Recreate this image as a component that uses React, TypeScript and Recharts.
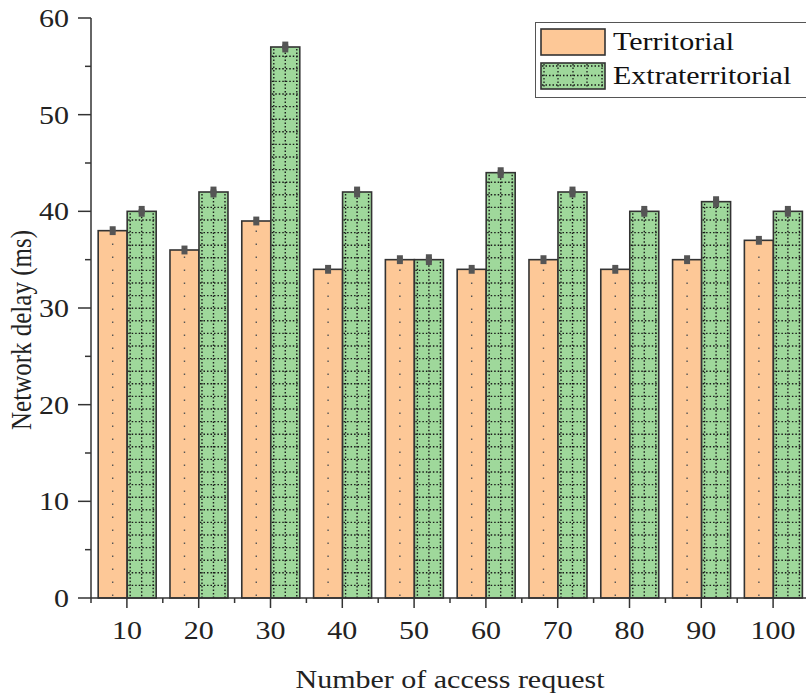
import React from "react";
import { Bar, BarChart, ErrorBar, XAxis, YAxis } from "recharts";

const requests = [10, 20, 30, 40, 50, 60, 70, 80, 90, 100];
const territorial = [38, 36, 39, 34, 35, 34, 35, 34, 35, 37];
const extraterritorial = [40, 42, 57, 42, 35, 44, 42, 40, 41, 40];
const territorialErr = [0.2, 0.2, 0.2, 0.2, 0.2, 0.2, 0.2, 0.2, 0.2, 0.2];
const extraErr = [0.25, 0.25, 0.25, 0.25, 0.25, 0.25, 0.25, 0.25, 0.25, 0.25];
const yTicks = [0, 5, 10, 15, 20, 25, 30, 35, 40, 45, 50, 55, 60];
const legendItems = [
  { key: "territorial", label: "Territorial" },
  { key: "extraterritorial", label: "Extraterritorial" },
];

const data = requests.map((r, i) => ({
  name: String(r),
  territorial: territorial[i],
  extraterritorial: extraterritorial[i],
  tErr: territorialErr[i],
  eErr: extraErr[i],
}));

const FONT = '"Liberation Serif", "Times New Roman", serif';
const ORANGE = "#FDC897";
const GREEN = "#9FD89B";
const EDGE = "#333";
const STRETCH = 1.2; // the reference text looks stretched sideways

function OrangeShape(props: any) {
  const { x, y, width, height } = props;
  if (height <= 0) return null;
  const cx = x + width / 2;
  return (
    <g>
      <rect x={x} y={y} width={width} height={height} fill={ORANGE} stroke={EDGE} strokeWidth={1.6} />
      <line x1={cx} y1={y + height - 2} x2={cx} y2={y + 6} stroke="#555" strokeWidth={1.4} strokeDasharray="1.4 11.6" />
    </g>
  );
}

function GreenShape(props: any) {
  const { x, y, width, height } = props;
  if (height <= 0) return null;
  const rows: number[] = [];
  for (let yy = y + height - 12.6; yy > y + 3; yy -= 12.6) rows.push(yy);
  const cols = [x + 3, x + width / 2, x + width - 3];
  return (
    <g>
      <rect x={x} y={y} width={width} height={height} fill={GREEN} stroke={EDGE} strokeWidth={1.6} />
      {rows.map((yy, i) => (
        <line key={"h" + i} x1={x + 1} x2={x + width - 1} y1={yy} y2={yy} stroke="#1a1a1a" strokeWidth={1.4} strokeDasharray="1.5 2" />
      ))}
      {cols.map((xx, i) => (
        <line key={"v" + i} x1={xx} x2={xx} y1={y + 2} y2={y + height} stroke="#1a1a1a" strokeWidth={1.4} strokeDasharray="1.5 2" />
      ))}
    </g>
  );
}

function StretchText(props: { x: number; y: number; anchor: string; children: any; size?: number }) {
  return (
    <text
      transform={`translate(${props.x},${props.y}) scale(${STRETCH},1)`}
      textAnchor={props.anchor}
      fontFamily={FONT}
      fontSize={props.size || 25}
      fill="#222"
    >
      {props.children}
    </text>
  );
}

function XTick(props: any) {
  const { x, y, payload } = props;
  const half = payload && payload.offset ? payload.offset : 35.9;
  return (
    <g>
      <line x1={x} x2={x} y1={y} y2={y + 10} stroke={EDGE} strokeWidth={1.5} />
      <line x1={x + half} x2={x + half} y1={y} y2={y + 5} stroke={EDGE} strokeWidth={1.5} />
      {payload.index === 0 && (
        <line x1={x - half} x2={x - half} y1={y} y2={y + 5} stroke={EDGE} strokeWidth={1.5} />
      )}
      <StretchText x={x} y={y + 41} anchor="middle">
        {payload.value}
      </StretchText>
    </g>
  );
}

function YTick(props: any) {
  const { x, y, payload } = props;
  const major = payload.value % 10 === 0;
  return (
    <g>
      <line x1={x - (major ? 13 : 6)} x2={x} y1={y} y2={y} stroke={EDGE} strokeWidth={1.5} />
      {major && (
        <StretchText x={x - 22} y={y + 9} anchor="end">
          {payload.value}
        </StretchText>
      )}
    </g>
  );
}

function XLabel(props: any) {
  const vb = props.viewBox;
  return (
    <StretchText x={vb.x + vb.width / 2} y={vb.y + vb.height - 11} anchor="middle">
      Number of access request
    </StretchText>
  );
}

function YLabel(props: any) {
  const vb = props.viewBox;
  const cy = vb.y + vb.height / 2 + 22;
  return (
    <text
      transform={`translate(31,${cy}) scale(${STRETCH},1) rotate(-90)`}
      textAnchor="middle"
      fontFamily={FONT}
      fontSize={25}
      fill="#222"
    >
      Network delay (ms)
    </text>
  );
}

function Swatch(props: { kind: string }) {
  return (
    <svg width={66} height={28} style={{ display: "block" }}>
      {props.kind === "territorial" ? (
        <rect x={1} y={1} width={64} height={26} fill={ORANGE} stroke={EDGE} strokeWidth={1.6} />
      ) : (
        <g>
          <rect x={1} y={1} width={64} height={26} fill={GREEN} stroke={EDGE} strokeWidth={1.6} />
          {[4, 13.5, 23].map((yy) => (
            <line key={yy} x1={2} x2={64} y1={yy} y2={yy} stroke="#1a1a1a" strokeWidth={1.3} strokeDasharray="1.5 2" />
          ))}
          {[4, 18, 33, 47, 62].map((xx) => (
            <line key={xx} x1={xx} x2={xx} y1={2} y2={26} stroke="#1a1a1a" strokeWidth={1.3} strokeDasharray="1.5 2" />
          ))}
        </g>
      )}
    </svg>
  );
}

function LegendBox() {
  return (
    <div
      style={{
        position: "absolute",
        left: 535,
        top: 22,
        width: 266,
        height: 72,
        border: "1.5px solid #555",
        background: "#fff",
        padding: "2px 0 0 4px",
        fontFamily: FONT,
        fontSize: 25,
        color: "#111",
      }}
    >
      {legendItems.map((it) => (
        <div key={it.key} style={{ display: "flex", alignItems: "center", height: 34 }}>
          <Swatch kind={it.key} />
          <span style={{ marginLeft: 7, display: "inline-block", transform: `scale(${STRETCH},1)`, transformOrigin: "left center" }}>
            {it.label}
          </span>
        </div>
      ))}
    </div>
  );
}

export default function App() {
  return (
    <div style={{ position: "absolute", left: 0, top: 0, width: 806, height: 699, overflow: "hidden", background: "#fff" }}>
      <BarChart
        width={809}
        height={699}
        data={data}
        margin={{ top: 18, right: 0, bottom: 0, left: 0 }}
        barCategoryGap="10%"
        barGap={0}
      >
        <XAxis
          dataKey="name"
          height={101}
          tickSize={0}
          tickMargin={0}
          tickLine={false}
          axisLine={{ stroke: EDGE, strokeWidth: 1.5 }}
          tick={<XTick />}
          interval={0}
          label={<XLabel />}
        />
        <YAxis
          width={91}
          domain={[0, 60]}
          ticks={yTicks}
          interval={0}
          tickSize={0}
          tickMargin={0}
          tickLine={false}
          axisLine={{ stroke: EDGE, strokeWidth: 1.5 }}
          tick={<YTick />}
          label={<YLabel />}
        />
        <Bar dataKey="territorial" name="Territorial" fill={ORANGE} shape={<OrangeShape />} isAnimationActive={false}>
          <ErrorBar dataKey="tErr" width={3} stroke="#555" strokeWidth={5} direction="y" />
        </Bar>
        <Bar dataKey="extraterritorial" name="Extraterritorial" fill={GREEN} shape={<GreenShape />} isAnimationActive={false}>
          <ErrorBar dataKey="eErr" width={3} stroke="#555" strokeWidth={6} direction="y" />
        </Bar>
      </BarChart>
      <LegendBox />
    </div>
  );
}
